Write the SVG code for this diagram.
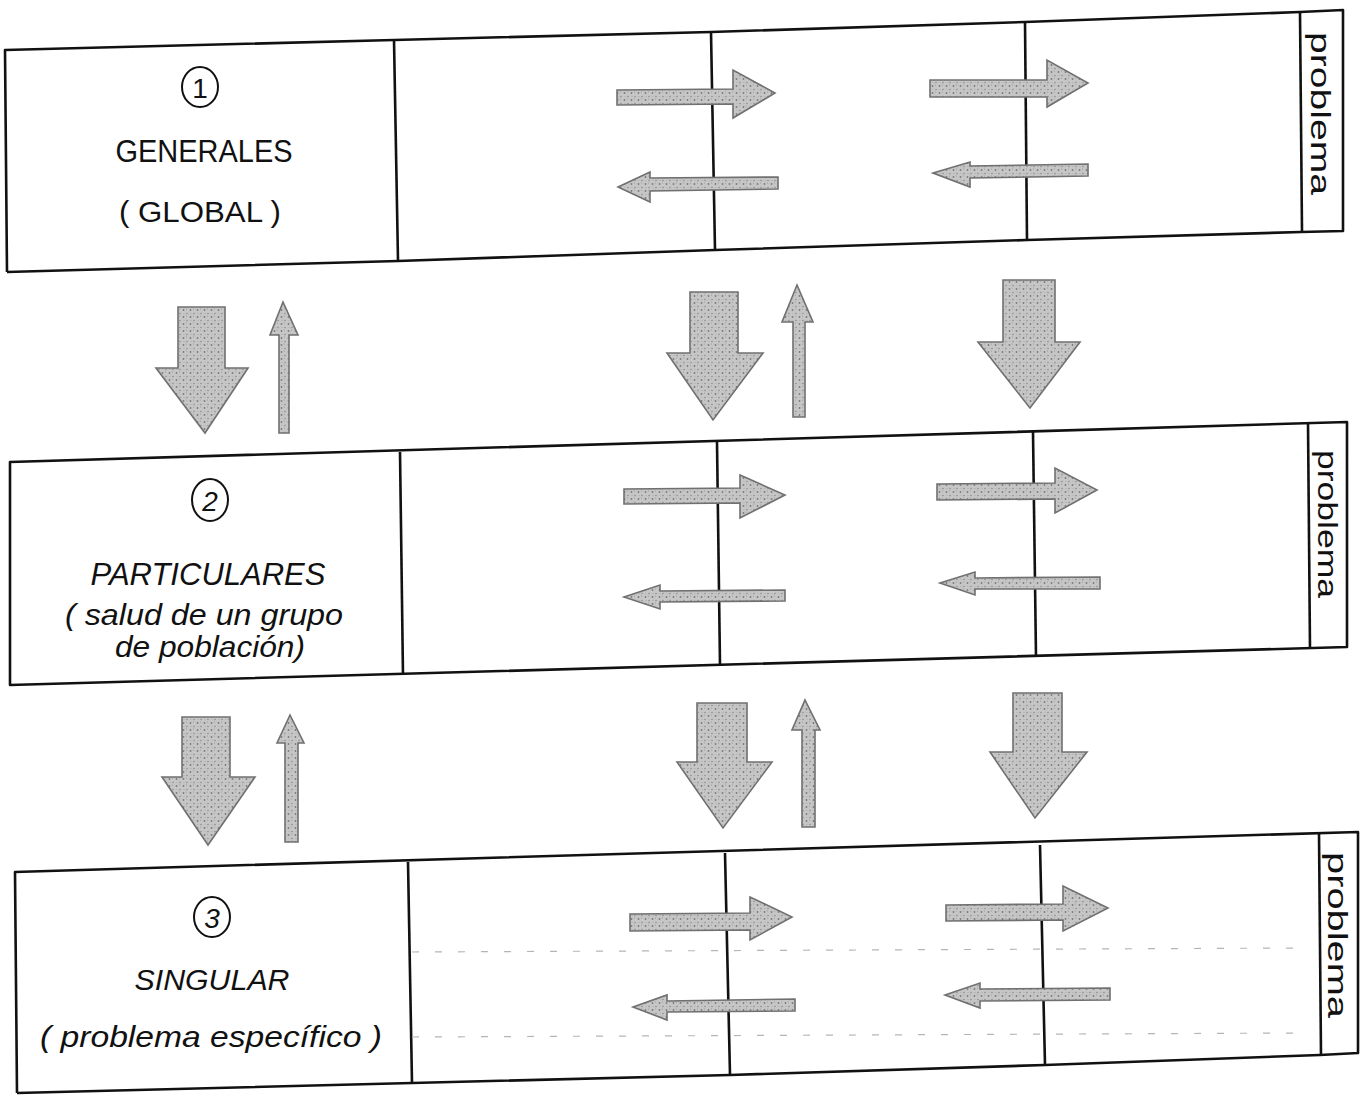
<svg xmlns="http://www.w3.org/2000/svg" width="1361" height="1105" viewBox="0 0 1361 1105">
<style>
.frame{fill:none;stroke:#111;stroke-width:2.6;stroke-linejoin:round}
.div{stroke:#111;stroke-width:2.6}
.arr{fill:url(#st);stroke:#707070;stroke-width:1.6;stroke-linejoin:miter}
.lbl{font-family:"Liberation Sans","DejaVu Sans",sans-serif;fill:#111;text-anchor:middle}
.it{font-style:italic}
.num{fill:none;stroke:#111;stroke-width:2}
.prob{font-family:"Liberation Sans","DejaVu Sans",sans-serif;font-size:28px;fill:#111}
.faint{stroke:#b5b5b5;stroke-width:1.2;stroke-dasharray:7 16;fill:none}
</style>
<defs>
<pattern id="st" width="7" height="7" patternUnits="userSpaceOnUse">
<rect width="7" height="7" fill="#c6c6c6"/>
<circle cx="1.5" cy="2" r="0.9" fill="#7a7a7a"/>
<circle cx="5" cy="5.5" r="0.8" fill="#8d8d8d"/>
<circle cx="4.5" cy="1" r="0.6" fill="#9a9a9a"/>
<circle cx="2" cy="5.5" r="0.5" fill="#a5a5a5"/>
</pattern>
</defs>

<!-- Row 1 -->
<g id="row1">
<polyline class="frame" points="7,272 5,50 394,40 711,32 1025,22 1300,12 1343,10 1343,231 1301,232 1027,240 715,250 398,261 7,272"/>
<line class="div" x1="394" y1="40" x2="398" y2="261"/>
<line class="div" x1="711" y1="32" x2="715" y2="250"/>
<line class="div" x1="1025" y1="22" x2="1027" y2="240"/>
<line class="div" x1="1300" y1="12" x2="1302" y2="232"/>
</g>
<g id="node1-label">
<ellipse class="num" cx="200" cy="87" rx="18" ry="20"/>
<text class="lbl" x="200" y="98" font-size="28">1</text>
<text class="lbl" x="204" y="162" font-size="32" textLength="177" lengthAdjust="spacingAndGlyphs">GENERALES</text>
<text class="lbl" x="200" y="222" font-size="30" textLength="162" lengthAdjust="spacingAndGlyphs">( GLOBAL )</text>
</g>
<g id="problema1">
<text class="prob" transform="translate(1311,32) rotate(90)" textLength="163" lengthAdjust="spacingAndGlyphs">problema</text>
</g>

<!-- Row 2 -->
<g id="row2">
<polygon class="frame" points="10,462 1347,422 1347,647 10,685"/>
<line class="div" x1="400" y1="452" x2="403" y2="675"/>
<line class="div" x1="717" y1="442" x2="720" y2="665"/>
<line class="div" x1="1033" y1="432" x2="1036" y2="657"/>
<line class="div" x1="1308" y1="423" x2="1310" y2="648"/>
</g>
<g id="node2-label">
<ellipse class="num" cx="210" cy="500" rx="18" ry="21"/>
<text class="lbl it" x="210" y="511" font-size="28">2</text>
<text class="lbl it" x="208" y="585" font-size="32" textLength="235" lengthAdjust="spacingAndGlyphs">PARTICULARES</text>
<text class="lbl it" x="204" y="625" font-size="30" textLength="278" lengthAdjust="spacingAndGlyphs">( salud de un grupo</text>
<text class="lbl it" x="210" y="657" font-size="30" textLength="190" lengthAdjust="spacingAndGlyphs">de población)</text>
</g>
<g id="problema2">
<text class="prob" transform="translate(1318,450) rotate(90)" textLength="148" lengthAdjust="spacingAndGlyphs">problema</text>
</g>

<!-- Row 3 -->
<g id="row3">
<polyline class="frame" points="17,1093 15,872 1358,832 1358,1053 1320,1055 1045,1065 730,1075 412,1083 17,1093"/>
<line class="div" x1="408" y1="862" x2="412" y2="1083"/>
<line class="div" x1="725" y1="853" x2="730" y2="1075"/>
<line class="div" x1="1040" y1="845" x2="1045" y2="1065"/>
<line class="div" x1="1319" y1="833" x2="1321" y2="1055"/>
<line class="faint" x1="412" y1="952" x2="1300" y2="948"/>
<line class="faint" x1="412" y1="1037" x2="1300" y2="1033"/>
</g>
<g id="node3-label">
<ellipse class="num" cx="212" cy="917" rx="18" ry="20"/>
<text class="lbl it" x="212" y="928" font-size="28">3</text>
<text class="lbl it" x="212" y="990" font-size="30" textLength="155" lengthAdjust="spacingAndGlyphs">SINGULAR</text>
<text class="lbl it" x="211" y="1047" font-size="30" textLength="342" lengthAdjust="spacingAndGlyphs">( problema específico )</text>
</g>
<g id="problema3">
<text class="prob" transform="translate(1328,852) rotate(90)" textLength="166" lengthAdjust="spacingAndGlyphs">problema</text>
</g>

<!-- Connectors -->
<g id="connectors">
<!-- row 1 horizontal -->
<polygon class="arr" points="617,90 733,89 733,70 775,93 733,118 733,104 617,105"/>
<polygon class="arr" points="618,187 650,172 650,178 778,177 778,189 650,191 650,202"/>
<polygon class="arr" points="930,80 1047,80 1047,60 1088,83 1047,107 1047,97 930,97"/>
<polygon class="arr" points="933,173 970,162 970,166 1088,164 1088,176 970,178 970,187"/>
<!-- row 2 horizontal -->
<polygon class="arr" points="624,489 740,488 740,475 785,495 740,518 740,503 624,504"/>
<polygon class="arr" points="624,597 660,585 660,591 785,590 785,601 660,602 660,609"/>
<polygon class="arr" points="937,484 1055,483 1055,468 1097,490 1055,513 1055,499 937,500"/>
<polygon class="arr" points="940,583 975,572 975,578 1100,577 1100,589 975,589 975,595"/>
<!-- row 3 horizontal -->
<polygon class="arr" points="630,914 750,913 750,897 792,917 750,940 750,930 630,931"/>
<polygon class="arr" points="633,1007 667,995 667,1001 795,999 795,1011 667,1012 667,1020"/>
<polygon class="arr" points="946,905 1063,904 1063,886 1108,908 1063,931 1063,920 946,921"/>
<polygon class="arr" points="945,995 980,983 980,989 1110,988 1110,1000 980,1001 980,1008"/>
<!-- between row 1 and 2 -->
<polygon class="arr" points="178,307 225,307 225,368 248,368 205,433 156,368 178,368"/>
<polygon class="arr" points="283,302 298,335 289,335 289,433 279,433 279,335 270,335"/>
<polygon class="arr" points="690,292 738,292 738,353 763,353 713,420 667,353 690,353"/>
<polygon class="arr" points="797,285 813,322 805,322 805,417 793,417 793,322 782,322"/>
<polygon class="arr" points="1003,280 1055,280 1055,342 1080,342 1030,408 978,342 1003,342"/>
<!-- between row 2 and 3 -->
<polygon class="arr" points="182,717 230,717 230,777 255,777 208,845 162,777 182,777"/>
<polygon class="arr" points="290,715 304,743 298,743 298,842 285,842 285,743 277,743"/>
<polygon class="arr" points="697,703 747,703 747,762 772,762 723,828 677,762 697,762"/>
<polygon class="arr" points="805,700 820,730 815,730 815,827 802,827 802,730 792,730"/>
<polygon class="arr" points="1013,693 1062,693 1062,752 1087,752 1035,818 990,752 1013,752"/>
</g>
</svg>
